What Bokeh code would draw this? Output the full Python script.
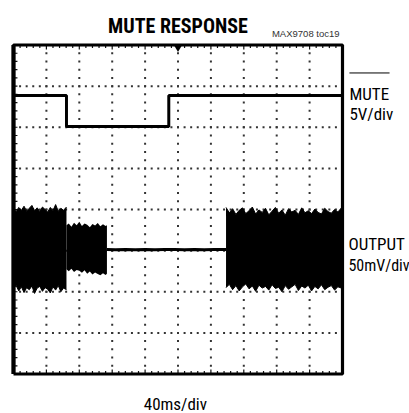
from bokeh.plotting import figure
from bokeh.embed import file_html
from bokeh.resources import INLINE
from bokeh.core.properties import value
from bokeh.models import Range1d

# ---------------- data (in screen divisions: 10 x 8) ----------------
n_xdiv = 10
n_ydiv = 8
minor_per_div = 5

# MUTE channel (5V/div): logic trace, level in divisions
mute_t = [0.0, 1.61, 1.61, 4.72, 4.72, 10.0]
mute_v = [6.77, 6.77, 6.02, 6.02, 6.77, 6.77]

# OUTPUT channel (50mV/div): envelope of the audio burst
b1_t = [0.00, 0.08, 0.16, 0.24, 0.32, 0.40, 0.48, 0.56, 0.64, 0.72, 0.80,
        0.88, 0.96, 1.04, 1.12, 1.20, 1.28, 1.36, 1.44, 1.52, 1.61]
b1_top = [4.02, 3.95, 4.05, 3.98, 4.08, 3.96, 4.03, 4.10, 3.97, 4.04, 3.95,
          4.06, 4.00, 3.94, 4.05, 3.97, 4.12, 3.96, 4.03, 3.98, 4.06]
b1_bot = [2.08, 2.15, 2.02, 2.12, 1.98, 2.10, 2.05, 2.14, 1.96, 2.09, 2.13,
          2.01, 2.10, 2.06, 1.97, 2.12, 2.04, 2.15, 2.00, 2.09, 2.05]

b2_t = [1.61, 1.68, 1.76, 1.84, 1.92, 2.00, 2.08, 2.16, 2.24, 2.32, 2.40,
        2.48, 2.56, 2.64, 2.72, 2.80, 2.84]
b2_top = [3.62, 3.66, 3.58, 3.68, 3.62, 3.70, 3.60, 3.66, 3.63, 3.57, 3.65,
          3.61, 3.67, 3.59, 3.64, 3.60, 3.62]
b2_bot = [2.55, 2.50, 2.56, 2.48, 2.53, 2.51, 2.46, 2.52, 2.44, 2.49, 2.42,
          2.47, 2.43, 2.40, 2.45, 2.41, 2.44]

flat_t = [2.84, 3.10, 3.40, 3.70, 4.00, 4.30, 4.60, 4.90, 5.20, 5.50, 5.80,
          6.10, 6.46]
flat_v = [3.03, 3.02, 3.03, 3.02, 3.03, 3.02, 3.03, 3.03, 3.02, 3.03, 3.02,
          3.03, 3.03]

b3_t = [6.46, 6.56, 6.66, 6.76, 6.86, 6.96, 7.06, 7.16, 7.26, 7.36, 7.46,
        7.56, 7.66, 7.76, 7.86, 7.96, 8.06, 8.16, 8.26, 8.36, 8.46, 8.56,
        8.66, 8.76, 8.86, 8.96, 9.06, 9.16, 9.26, 9.36, 9.46, 9.56, 9.66,
        9.76, 9.86, 10.0]
b3_top = [4.05, 3.92, 4.02, 3.88, 3.98, 4.04, 3.90, 3.97, 4.06, 3.89, 3.99,
          3.93, 4.03, 3.87, 3.96, 4.05, 3.91, 3.99, 3.86, 4.02, 3.94, 3.98,
          3.88, 4.04, 3.92, 3.97, 3.90, 4.01, 3.93, 3.89, 4.03, 3.95, 3.91,
          4.00, 3.94, 4.07]
b3_bot = [2.10, 2.18, 2.05, 2.15, 2.02, 2.12, 2.19, 2.07, 2.14, 2.01, 2.16,
          2.09, 2.13, 2.04, 2.17, 2.08, 2.11, 2.00, 2.15, 2.06, 2.12, 2.18,
          2.03, 2.14, 2.09, 2.16, 2.02, 2.13, 2.07, 2.17, 2.05, 2.11, 2.15,
          2.04, 2.12, 2.08]

# ---------------- figure ----------------
W, H = 409, 413
px_x = 32.9     # px per x division
px_y = 41.125   # px per y division
left_px, top_px = 13, 44.5

p = figure(width=W, height=H, output_backend="svg", toolbar_location=None,
           min_border=0, x_axis_type=None, y_axis_type=None)
p.x_range = Range1d(-left_px / px_x, (W - left_px) / px_x)
p.y_range = Range1d(n_ydiv - (H - top_px) / px_y, n_ydiv + top_px / px_y)
p.grid.visible = False
p.outline_line_color = None
p.background_fill_color = "white"
p.border_fill_color = "white"

ink = "#111111"

# grid dots
gx, gy = [], []
for k in range(1, n_xdiv):
    for j in range(1, n_ydiv * minor_per_div):
        gx.append(k); gy.append(j / minor_per_div)
for k in range(1, n_ydiv):
    for j in range(1, n_xdiv * minor_per_div):
        gx.append(j / minor_per_div); gy.append(k)
p.scatter(gx, gy, marker="square", size=2, fill_color="#333333", line_color=None)

# border ticks
tx0, tx1, ty0, ty1 = [], [], [], []
for j in range(1, n_xdiv * minor_per_div):
    xx = j / minor_per_div
    L = 0.11 if j % minor_per_div == 0 else 0.07
    tx0 += [xx, xx]; tx1 += [xx, xx]
    ty0 += [n_ydiv, 0]; ty1 += [n_ydiv - L, L]
for j in range(1, n_ydiv * minor_per_div):
    yy = j / minor_per_div
    L = 0.12
    tx0.append(0); tx1.append(L); ty0.append(yy); ty1.append(yy)
p.segment(tx0, ty0, tx1, ty1, line_color=ink, line_width=1.2)

# traces
p.varea(x=b1_t, y1=b1_bot, y2=b1_top, fill_color="black")
p.varea(x=b2_t, y1=b2_bot, y2=b2_top, fill_color="black")
p.varea(x=b3_t, y1=b3_bot, y2=b3_top, fill_color="black")
p.line(b1_t, b1_top, line_color="black", line_width=1)
p.line(b1_t, b1_bot, line_color="black", line_width=1)
p.line(b3_t, b3_top, line_color="black", line_width=1)
p.line(b3_t, b3_bot, line_color="black", line_width=1)
p.line(flat_t, flat_v, line_color="black", line_width=3)
p.line(mute_t, mute_v, line_color="black", line_width=3)

# frame
p.line([0, n_xdiv, n_xdiv, 0, 0], [0, 0, n_ydiv, n_ydiv, 0],
       line_color="black", line_width=3.2)
p.line([0, 0], [0, n_ydiv], line_color="black", line_width=4.2)

# trigger marker
p.scatter([n_xdiv / 2], [n_ydiv - 0.06], marker="inverted_triangle", size=8,
          fill_color="black", line_color=None)

narrow = value("Roboto Condensed, DejaVu Sans Condensed, Liberation Sans Narrow, Arial Narrow, Roboto")

p.text([n_xdiv / 2], [8.47], text=["MUTE RESPONSE"], text_font=narrow,
       text_font_style="bold", text_font_size="20px", text_align="center",
       text_baseline="alphabetic", text_color="black")
p.text([9.91], [8.28], text=["MAX9708 toc19"], text_font=value("Liberation Sans"),
       text_font_size="9.5px", text_align="right", text_baseline="alphabetic",
       text_color="#333333")
p.text([10.21], [6.82], text=["MUTE"], text_font=narrow, text_font_size="17px",
       text_baseline="alphabetic", text_color="black")
p.line([10.21, 11.43], [7.32, 7.32], line_color="black", line_width=1)
p.text([10.21], [6.32], text=["5V/div"], text_font=narrow, text_font_size="17px",
       text_baseline="alphabetic", text_color="black")
p.text([10.18], [3.16], text=["OUTPUT"], text_font=narrow, text_font_size="17px",
       text_baseline="alphabetic", text_color="black")
p.text([10.18], [2.65], text=["50mV/div"], text_font=narrow, text_font_size="16px",
       text_baseline="alphabetic", text_color="black")
p.text([4.92], [-0.73], text=["40ms/div"], text_font=narrow, text_font_size="17px",
       text_align="center", text_baseline="alphabetic", text_color="black")

open("out.html", "w").write(file_html(p, INLINE))
